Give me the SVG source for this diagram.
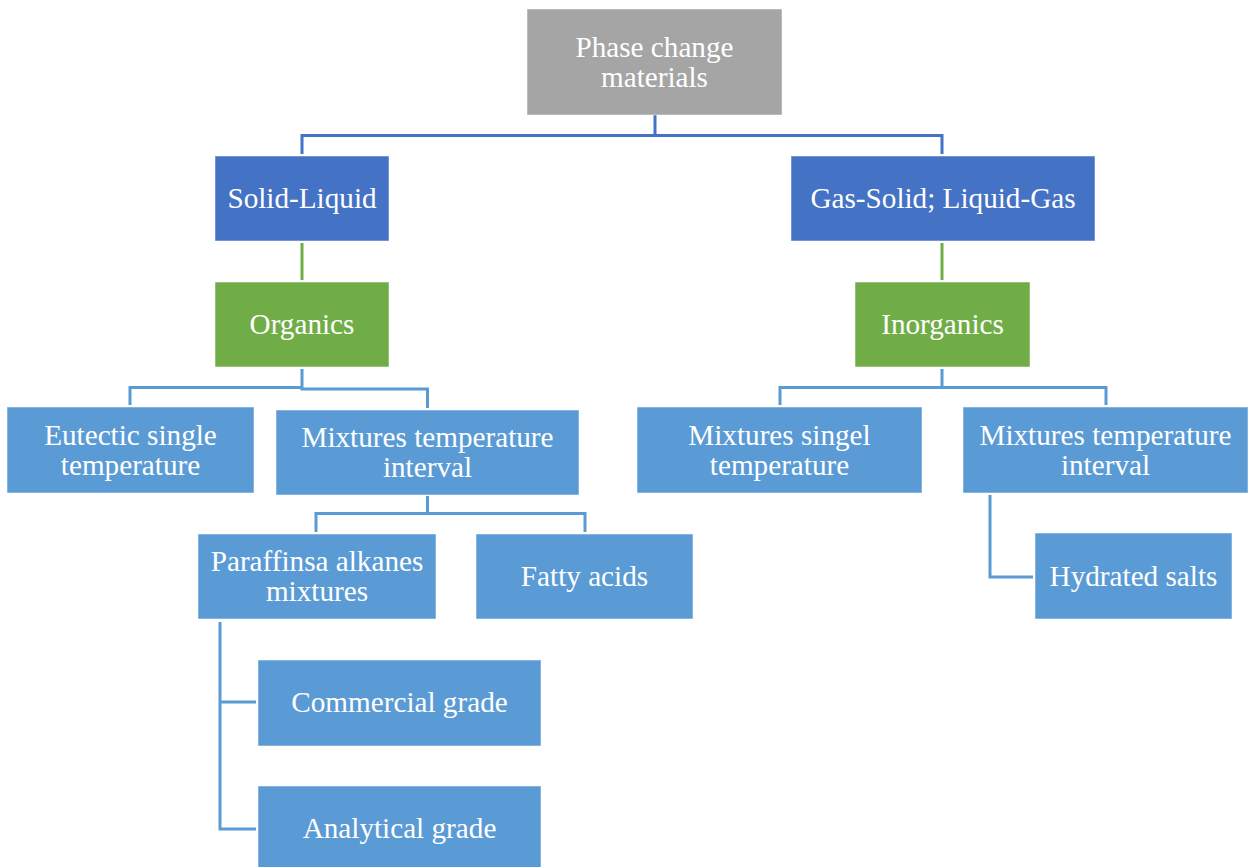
<svg xmlns="http://www.w3.org/2000/svg" width="1248" height="867" viewBox="0 0 1248 867">
<style>
text{font-family:"Liberation Serif","Times New Roman",serif;font-size:29.2px;fill:#fff;text-anchor:middle}
.gray{fill:#A5A5A5}
.dblue{fill:#4472C4}
.green{fill:#70AD47}
.lblue{fill:#5B9BD5}
.box{stroke:#fff;stroke-width:1;stroke-opacity:0.5}
.c{fill:none;stroke-width:3}
.cd{stroke:#4472C4}
.cg{stroke:#70AD47}
.cl{stroke:#5B9BD5}
</style>
<rect width="1248" height="867" fill="#fff"/>
<g id="connectors">
<path class="c cd" d="M655 115V135.5M302 154V135.5H942V154"/>
<path class="c cg" d="M302 243V280M942 243V280"/>
<path class="c cl" d="M302 369V387.5H130V405M302 387.5V389H427.5V408"/>
<path class="c cl" d="M942 369V387.5H780V405M942 387.5H1106V405"/>
<path class="c cl" d="M427.5 496V513.5H316V532M427.5 513.5H585V532"/>
<path class="c cl" d="M220 622V829H256M220 702H256"/>
<path class="c cl" d="M990 495V577H1033"/>
</g>
<g id="n-pcm"><rect class="box gray" x="527" y="9" width="255" height="106"/><text x="654.5" y="57">Phase change</text><text x="654.5" y="87">materials</text></g>
<g id="n-solid-liquid"><rect class="box dblue" x="215" y="156" width="174" height="85"/><text x="302" y="208">Solid-Liquid</text></g>
<g id="n-gas"><rect class="box dblue" x="791" y="156" width="304" height="85"/><text x="943" y="208">Gas-Solid; Liquid-Gas</text></g>
<g id="n-organics"><rect class="box green" x="215" y="282" width="174" height="85"/><text x="302" y="334">Organics</text></g>
<g id="n-inorganics"><rect class="box green" x="855" y="282" width="175" height="85"/><text x="942.5" y="334">Inorganics</text></g>
<g id="n-eutectic"><rect class="box lblue" x="7" y="407" width="247" height="86"/><text x="130.5" y="445">Eutectic single</text><text x="130.5" y="475">temperature</text></g>
<g id="n-mix-interval"><rect class="box lblue" x="276" y="410" width="303" height="85"/><text x="427.5" y="447">Mixtures temperature</text><text x="427.5" y="477">interval</text></g>
<g id="n-mix-singel"><rect class="box lblue" x="637" y="407" width="285" height="86"/><text x="779.5" y="445">Mixtures singel</text><text x="779.5" y="475">temperature</text></g>
<g id="n-mix-interval-r"><rect class="box lblue" x="963" y="407" width="285" height="86"/><text x="1105.5" y="445">Mixtures temperature</text><text x="1105.5" y="475">interval</text></g>
<g id="n-paraffins"><rect class="box lblue" x="198" y="534" width="238" height="85"/><text x="317" y="571">Paraffinsa alkanes</text><text x="317" y="601">mixtures</text></g>
<g id="n-fatty"><rect class="box lblue" x="476" y="534" width="217" height="85"/><text x="584.5" y="586">Fatty acids</text></g>
<g id="n-hydrated"><rect class="box lblue" x="1035" y="533" width="197" height="86"/><text x="1133.5" y="586">Hydrated salts</text></g>
<g id="n-commercial"><rect class="box lblue" x="258" y="660" width="283" height="86"/><text x="399.5" y="712">Commercial grade</text></g>
<g id="n-analytical"><rect class="box lblue" x="258" y="786" width="283" height="82"/><text x="399.5" y="838">Analytical grade</text></g>
</svg>
